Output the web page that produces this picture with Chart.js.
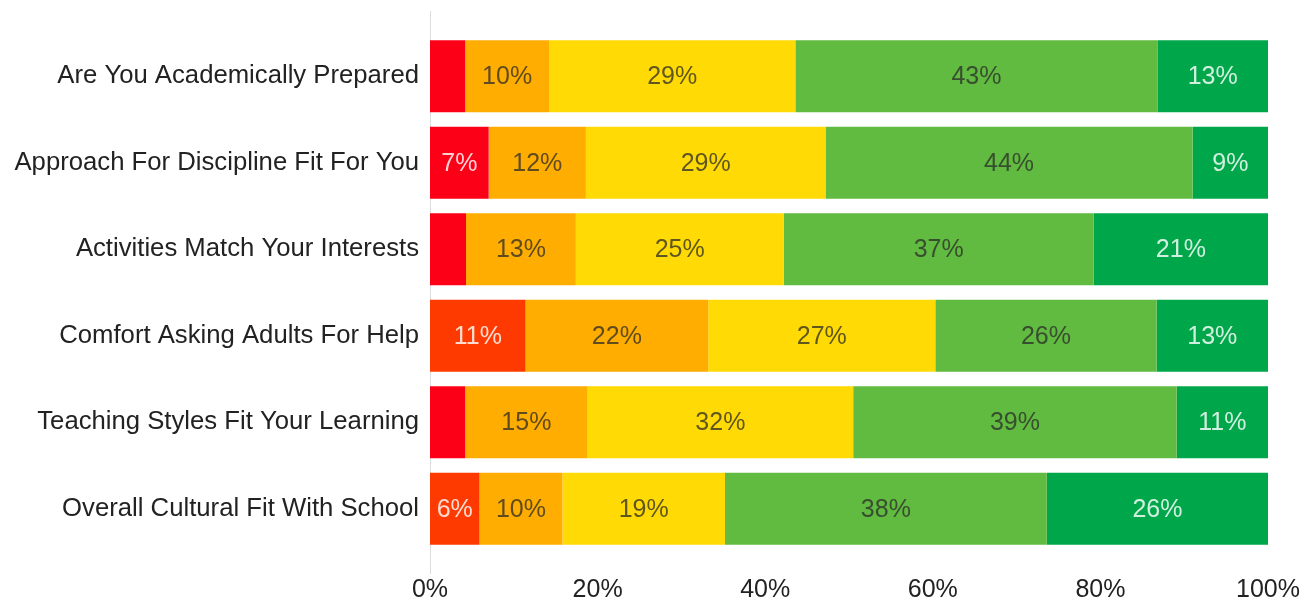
<!DOCTYPE html>
<html>
<head>
<meta charset="utf-8">
<script src="https://cdn.jsdelivr.net/npm/chart.js@4/dist/chart.umd.min.js"></script>
<style>
  html, body { margin: 0; padding: 0; background: #fff; }
  #wrap { width: 1315px; height: 603px; }
</style>
</head>
<body>
<div id="wrap"><canvas id="grafico"></canvas></div>
<script>
const categorias = [
  'Are You Academically Prepared',
  'Approach For Discipline Fit For You',
  'Activities Match Your Interests',
  'Comfort Asking Adults For Help',
  'Teaching Styles Fit Your Learning',
  'Overall Cultural Fit With School'
]

// percentuais por resposta, do pior para o melhor
const muitoBaixo = [4.2, 7.0, 4.3, 11.4, 4.2, 5.9]
const baixo = [10.0, 11.6, 13.1, 21.8, 14.6, 9.9]
const neutro = [29.4, 28.6, 24.8, 27.1, 31.7, 19.4]
const alto = [43.2, 43.8, 37.0, 26.4, 38.6, 38.4]
const muitoAlto = [13.2, 9.0, 20.8, 13.3, 10.9, 26.4]

const ticksX = [0, 20, 40, 60, 80, 100]

const familia = '"Liberation Sans", Arial, sans-serif'
const fonteEixo = { family: familia, size: 25.7 }
const fonteTicks = { family: familia, size: 25 }
const fonteRotulo = { family: familia, size: 25 }
const textoClaro = 'rgba(255,255,255,0.82)'
const textoEscuro = 'rgba(40,40,40,0.74)'

// escreve o percentual no meio de cada segmento largo o bastante
const rotulosPlugin = {
  id: 'rotulos',
  afterDatasetsDraw(chart) {
    const ctx = chart.ctx
    ctx.save()
    ctx.font = `${fonteRotulo.size}px ${fonteRotulo.family}`
    ctx.textAlign = 'center'
    ctx.textBaseline = 'middle'
    chart.data.datasets.forEach((ds, i) => {
      const meta = chart.getDatasetMeta(i)
      meta.data.forEach((barra, j) => {
        const valor = ds.data[j]
        if (valor < 5) return
        const p = barra.getCenterPoint()
        ctx.fillStyle = ds.corTexto
        ctx.fillText(Math.round(valor) + '%', p.x, p.y + 1)
      })
    })
    ctx.restore()
  }
}

// linha do zero, um pouco mais longa que a área das barras
const linhaZeroPlugin = {
  id: 'linhaZero',
  beforeDatasetsDraw(chart) {
    const { ctx, chartArea, scales } = chart
    const x = Math.round(scales.x.getPixelForValue(0)) + 0.5
    ctx.save()
    ctx.strokeStyle = '#dcdcdc'
    ctx.lineWidth = 1
    ctx.beginPath()
    ctx.moveTo(x, chartArea.top - 22)
    ctx.lineTo(x, chartArea.bottom + 22)
    ctx.stroke()
    ctx.restore()
  }
}

new Chart(document.getElementById('grafico'), {
  type: 'bar',
  data: {
    labels: categorias,
    datasets: [
      {
        label: 'Muito baixo',
        data: muitoBaixo,
        backgroundColor: ['#fc0018', '#fc0018', '#fc0018', '#ff3a00', '#fc0018', '#ff3a00'],
        corTexto: textoClaro
      },
      { label: 'Baixo', data: baixo, backgroundColor: '#ffad00', corTexto: textoEscuro },
      { label: 'Neutro', data: neutro, backgroundColor: '#ffda05', corTexto: textoEscuro },
      { label: 'Alto', data: alto, backgroundColor: '#62bb41', corTexto: textoEscuro },
      { label: 'Muito alto', data: muitoAlto, backgroundColor: '#00a74a', corTexto: textoClaro }
    ]
  },
  options: {
    indexAxis: 'y',
    responsive: true,
    maintainAspectRatio: false,
    animation: false,
    categoryPercentage: 0.83,
    barPercentage: 1,
    layout: { padding: { top: 33, right: 44, bottom: 0, left: 0 } },
    scales: {
      x: {
        stacked: true,
        min: 0,
        max: 100,
        border: { display: false },
        grid: { display: false },
        afterBuildTicks(scale) {
          scale.ticks = ticksX.map(v => ({ value: v }))
        },
        afterFit(scale) {
          scale.height = 51
        },
        ticks: {
          padding: 15,
          color: '#222',
          font: fonteTicks,
          callback: v => v + '%'
        }
      },
      y: {
        stacked: true,
        border: { display: false },
        grid: { display: false },
        afterFit(scale) {
          scale.width = 430
        },
        ticks: { padding: 3, color: '#222', font: fonteEixo }
      }
    },
    plugins: { legend: { display: false }, tooltip: { enabled: false } }
  },
  plugins: [linhaZeroPlugin, rotulosPlugin]
})
</script>
</body>
</html>
